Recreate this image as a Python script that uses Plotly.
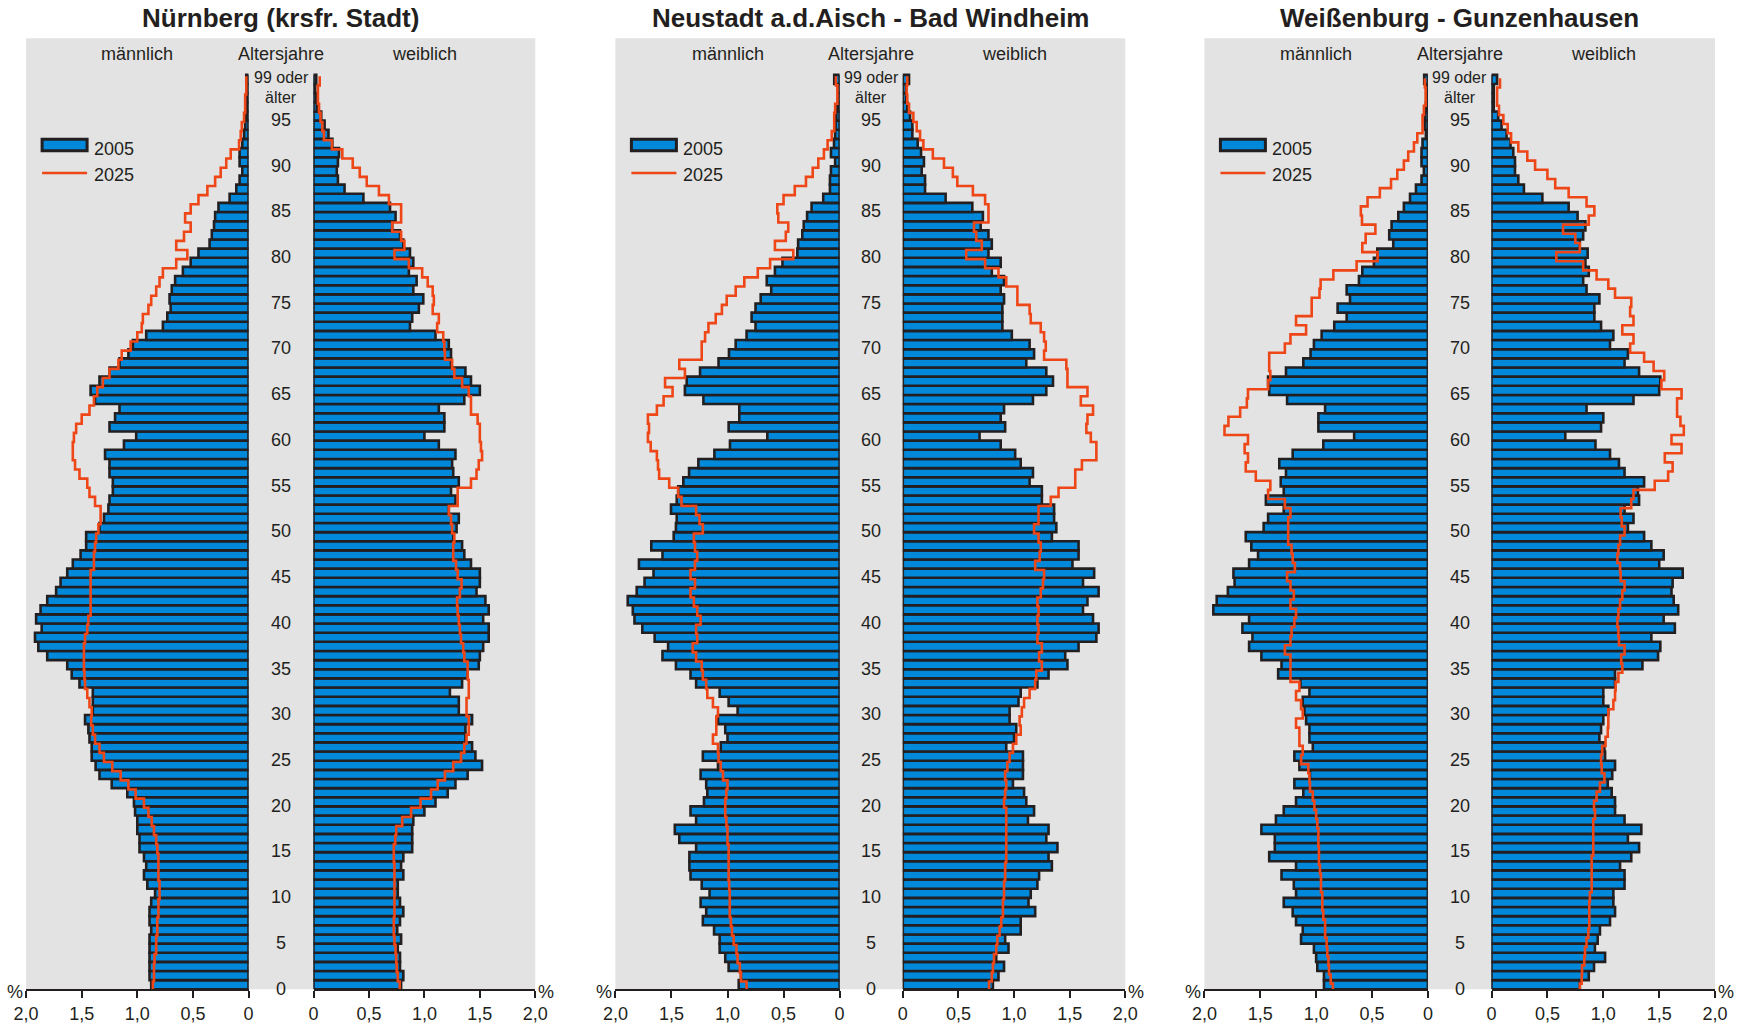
import plotly.graph_objects as go

# ---------------- data (shares in % of population, ages 0..99; 99 = "99 oder älter") ----------------
AGES = list(range(100))
TITLES = ["Nürnberg (krsfr. Stadt)", "Neustadt a.d.Aisch - Bad Windheim", "Weißenburg - Gunzenhausen"]
TICK_VALS = [0, 0.5, 1.0, 1.5, 2.0]
TICK_TEXT = ["0", "0,5", "1,0", "1,5", "2,0"]
AGE_TICKS = list(range(0, 96, 5))
SERIES_NAMES = ["2005", "2025"]

NBG_M_2005 = [0.875, 0.89, 0.89, 0.89, 0.89, 0.89, 0.875, 0.89, 0.89, 0.875,
              0.84, 0.91, 0.94, 0.92, 0.94, 0.98, 0.98, 1.00, 1.00, 1.02,
              1.03, 1.09, 1.23, 1.34, 1.375, 1.41, 1.41, 1.43, 1.44, 1.47,
              1.40, 1.40, 1.40, 1.52, 1.59, 1.63, 1.81, 1.89, 1.92, 1.86,
              1.91, 1.87, 1.81, 1.73, 1.69, 1.63, 1.58, 1.51, 1.46, 1.46,
              1.34, 1.30, 1.26, 1.25, 1.22, 1.22, 1.25, 1.25, 1.29, 1.12,
              1.01, 1.25, 1.20, 1.16, 1.38, 1.42, 1.34, 1.25, 1.16, 1.08,
              1.04, 0.92, 0.77, 0.73, 0.70, 0.71, 0.69, 0.66, 0.59, 0.52,
              0.45, 0.35, 0.33, 0.31, 0.30, 0.27, 0.17, 0.11, 0.08, 0.056,
              0.08, 0.08, 0.056, 0.04, 0.03, 0.02, 0.02, 0.02, 0.01, 0.02]
NBG_M_2025 = [0.86, 0.85, 0.85, 0.845, 0.83, 0.83, 0.82, 0.82, 0.81, 0.81,
              0.80, 0.80, 0.81, 0.81, 0.81, 0.82, 0.83, 0.85, 0.87, 0.90,
              0.94, 1.015, 1.08, 1.15, 1.225, 1.30, 1.34, 1.38, 1.40, 1.415,
              1.41, 1.43, 1.45, 1.47, 1.475, 1.48, 1.48, 1.48, 1.47, 1.45,
              1.44, 1.42, 1.42, 1.42, 1.42, 1.42, 1.39, 1.39, 1.38, 1.37,
              1.35, 1.33, 1.33, 1.38, 1.43, 1.45, 1.52, 1.56, 1.58, 1.58,
              1.57, 1.55, 1.50, 1.43, 1.39, 1.36, 1.31, 1.25, 1.17, 1.14,
              1.06, 1.00, 0.96, 0.95, 0.90, 0.875, 0.83, 0.80, 0.77, 0.65,
              0.55, 0.65, 0.58, 0.52, 0.57, 0.52, 0.45, 0.37, 0.30, 0.25,
              0.20, 0.16, 0.085, 0.07, 0.06, 0.04, 0.03, 0.03, 0.02, 0.02]
NBG_F_2005 = [0.79, 0.81, 0.78, 0.78, 0.76, 0.79, 0.755, 0.78, 0.81, 0.78,
              0.76, 0.76, 0.81, 0.79, 0.81, 0.89, 0.89, 0.89, 0.90, 1.00,
              1.10, 1.21, 1.28, 1.39, 1.52, 1.46, 1.43, 1.37, 1.37, 1.43,
              1.31, 1.31, 1.23, 1.34, 1.39, 1.49, 1.50, 1.53, 1.58, 1.58,
              1.53, 1.58, 1.55, 1.47, 1.50, 1.50, 1.42, 1.36, 1.34, 1.26,
              1.29, 1.31, 1.22, 1.28, 1.24, 1.31, 1.26, 1.25, 1.28, 1.13,
              1.00, 1.18, 1.18, 1.13, 1.36, 1.50, 1.42, 1.37, 1.24, 1.24,
              1.22, 1.10, 0.87, 0.89, 0.95, 0.99, 0.90, 0.93, 0.86, 0.90,
              0.87, 0.81, 0.78, 0.71, 0.74, 0.69, 0.45, 0.28, 0.22, 0.21,
              0.22, 0.23, 0.17, 0.135, 0.10, 0.07, 0.03, 0.025, 0.015, 0.025]
NBG_F_2025 = [0.777, 0.76, 0.75, 0.746, 0.74, 0.73, 0.724, 0.724, 0.73, 0.73,
              0.73, 0.73, 0.73, 0.73, 0.724, 0.724, 0.737, 0.746, 0.80, 0.88,
              0.965, 1.06, 1.12, 1.185, 1.26, 1.33, 1.36, 1.38, 1.40, 1.40,
              1.38, 1.38, 1.40, 1.40, 1.39, 1.39, 1.36, 1.35, 1.33, 1.32,
              1.31, 1.30, 1.295, 1.32, 1.335, 1.30, 1.285, 1.26, 1.26, 1.27,
              1.25, 1.24, 1.22, 1.30, 1.30, 1.42, 1.47, 1.49, 1.52, 1.51,
              1.50, 1.50, 1.48, 1.42, 1.42, 1.40, 1.34, 1.27, 1.25, 1.185,
              1.18, 1.17, 1.115, 1.13, 1.075, 1.085, 1.075, 1.03, 0.98, 0.86,
              0.73, 0.82, 0.79, 0.71, 0.79, 0.79, 0.68, 0.59, 0.48, 0.417,
              0.354, 0.26, 0.166, 0.094, 0.08, 0.063, 0.05, 0.04, 0.04, 0.056]

NEA_M_2005 = [0.90, 0.88, 0.99, 1.02, 1.07, 1.07, 1.12, 1.22, 1.19, 1.24,
              1.16, 1.23, 1.33, 1.34, 1.34, 1.28, 1.43, 1.47, 1.28, 1.33,
              1.21, 1.18, 1.19, 1.24, 1.085, 1.22, 1.06, 1.00, 1.02, 1.085,
              0.91, 0.99, 1.07, 1.28, 1.33, 1.46, 1.58, 1.53, 1.65, 1.76,
              1.83, 1.845, 1.89, 1.81, 1.74, 1.66, 1.79, 1.58, 1.68, 1.48,
              1.46, 1.453, 1.504, 1.453, 1.44, 1.394, 1.343, 1.26, 1.117, 0.978,
              0.645, 0.99, 0.895, 0.895, 1.215, 1.38, 1.364, 1.245, 1.08, 0.987,
              0.927, 0.83, 0.75, 0.785, 0.75, 0.704, 0.61, 0.65, 0.577, 0.51,
              0.377, 0.37, 0.333, 0.32, 0.29, 0.25, 0.146, 0.086, 0.086, 0.077,
              0.04, 0.077, 0.05, 0.04, 0.036, 0.03, 0.02, 0.012, 0.012, 0.048]
NEA_M_2025 = [0.83, 0.88, 0.89, 0.91, 0.92, 0.945, 0.96, 0.97, 0.98, 0.98,
              0.98, 0.985, 0.99, 0.99, 0.99, 0.99, 1.00, 1.00, 1.01, 1.02,
              1.02, 1.01, 1.00, 1.04, 1.06, 1.08, 1.085, 1.13, 1.10, 1.10,
              1.085, 1.13, 1.18, 1.19, 1.22, 1.23, 1.28, 1.31, 1.27, 1.28,
              1.24, 1.27, 1.30, 1.33, 1.29, 1.33, 1.29, 1.27, 1.29, 1.30,
              1.22, 1.25, 1.28, 1.41, 1.44, 1.52, 1.61, 1.62, 1.63, 1.685,
              1.71, 1.70, 1.71, 1.63, 1.57, 1.49, 1.557, 1.38, 1.43, 1.23,
              1.23, 1.20, 1.17, 1.105, 1.05, 1.007, 0.927, 0.85, 0.73, 0.62,
              0.413, 0.577, 0.48, 0.458, 0.547, 0.556, 0.50, 0.40, 0.30, 0.24,
              0.19, 0.14, 0.107, 0.07, 0.048, 0.048, 0.04, 0.02, 0.02, 0.033]
NEA_F_2005 = [0.81, 0.86, 0.91, 0.84, 0.95, 0.92, 1.06, 1.06, 1.19, 1.13,
              1.15, 1.21, 1.225, 1.34, 1.31, 1.39, 1.29, 1.31, 1.125, 1.18,
              1.11, 1.09, 0.99, 1.08, 1.08, 1.08, 0.93, 1.00, 1.02, 0.96,
              0.96, 1.04, 1.06, 1.21, 1.31, 1.48, 1.46, 1.58, 1.74, 1.76,
              1.71, 1.62, 1.66, 1.76, 1.62, 1.72, 1.525, 1.58, 1.58, 1.34,
              1.38, 1.36, 1.36, 1.25, 1.25, 1.14, 1.17, 1.06, 1.01, 0.88,
              0.69, 0.92, 0.88, 0.91, 1.17, 1.29, 1.35, 1.29, 1.11, 1.18,
              1.14, 0.98, 0.895, 0.895, 0.895, 0.91, 0.88, 0.91, 0.80, 0.88,
              0.77, 0.80, 0.77, 0.70, 0.72, 0.625, 0.385, 0.20, 0.20, 0.17,
              0.19, 0.164, 0.134, 0.086, 0.086, 0.065, 0.04, 0.03, 0.03, 0.056]
NEA_F_2025 = [0.775, 0.80, 0.81, 0.82, 0.84, 0.85, 0.87, 0.885, 0.90, 0.90,
              0.91, 0.91, 0.92, 0.92, 0.93, 0.93, 0.93, 0.93, 0.93, 0.93,
              0.91, 0.92, 0.93, 0.92, 0.94, 0.96, 0.99, 1.02, 1.06, 1.05,
              1.07, 1.09, 1.14, 1.19, 1.20, 1.25, 1.225, 1.25, 1.21, 1.22,
              1.21, 1.22, 1.21, 1.24, 1.26, 1.27, 1.19, 1.23, 1.24, 1.22,
              1.18, 1.22, 1.22, 1.33, 1.40, 1.55, 1.55, 1.61, 1.74, 1.74,
              1.69, 1.65, 1.66, 1.71, 1.60, 1.66, 1.48, 1.48, 1.47, 1.27,
              1.285, 1.27, 1.24, 1.15, 1.14, 1.03, 1.03, 0.93, 0.86, 0.74,
              0.57, 0.71, 0.66, 0.64, 0.77, 0.77, 0.74, 0.63, 0.49, 0.45,
              0.37, 0.27, 0.185, 0.155, 0.125, 0.095, 0.056, 0.04, 0.035, 0.04]

WUG_M_2005 = [0.93, 0.93, 0.99, 1.00, 1.02, 1.135, 1.12, 1.18, 1.21, 1.29,
              1.18, 1.20, 1.31, 1.18, 1.42, 1.37, 1.37, 1.49, 1.36, 1.29,
              1.18, 1.115, 1.195, 1.055, 1.15, 1.195, 1.03, 1.06, 1.06, 1.09,
              1.105, 1.12, 1.06, 1.14, 1.34, 1.31, 1.49, 1.60, 1.57, 1.66,
              1.60, 1.92, 1.89, 1.79, 1.73, 1.74, 1.60, 1.52, 1.58, 1.63,
              1.47, 1.43, 1.29, 1.45, 1.29, 1.317, 1.27, 1.33, 1.21, 0.936,
              0.66, 0.98, 0.98, 0.92, 1.26, 1.42, 1.43, 1.27, 1.115, 1.05,
              1.02, 0.951, 0.838, 0.727, 0.808, 0.697, 0.727, 0.617, 0.587, 0.483,
              0.453, 0.31, 0.346, 0.325, 0.265, 0.215, 0.16, 0.107, 0.057, 0.036,
              0.057, 0.057, 0.048, 0.018, 0.027, 0.027, 0.018, 0.015, 0.015, 0.033]
WUG_M_2025 = [0.85, 0.87, 0.885, 0.89, 0.90, 0.906, 0.92, 0.92, 0.936, 0.945,
              0.945, 0.957, 0.957, 0.966, 0.975, 0.975, 0.98, 0.98, 0.99, 1.00,
              1.016, 1.03, 1.055, 1.06, 1.07, 1.135, 1.12, 1.15, 1.15, 1.18,
              1.12, 1.135, 1.18, 1.15, 1.23, 1.23, 1.23, 1.28, 1.23, 1.22,
              1.195, 1.18, 1.23, 1.20, 1.23, 1.26, 1.19, 1.21, 1.22, 1.25,
              1.25, 1.25, 1.23, 1.28, 1.43, 1.41, 1.54, 1.63, 1.61, 1.64,
              1.61, 1.82, 1.785, 1.68, 1.62, 1.61, 1.43, 1.41, 1.42, 1.42,
              1.28, 1.23, 1.09, 1.18, 1.04, 1.04, 0.97, 0.96, 0.846, 0.638,
              0.45, 0.587, 0.557, 0.47, 0.59, 0.60, 0.54, 0.43, 0.33, 0.274,
              0.215, 0.176, 0.125, 0.095, 0.048, 0.048, 0.036, 0.02, 0.02, 0.027]
WUG_F_2005 = [0.79, 0.87, 0.917, 1.016, 0.925, 0.95, 0.97, 1.06, 1.105, 1.09,
              1.09, 1.19, 1.19, 1.15, 1.25, 1.32, 1.22, 1.34, 1.19, 1.105,
              1.105, 1.075, 1.04, 1.08, 1.105, 1.016, 1.01, 0.965, 0.98, 1.00,
              1.045, 1.00, 1.00, 1.105, 1.105, 1.35, 1.49, 1.51, 1.43, 1.64,
              1.54, 1.67, 1.63, 1.61, 1.62, 1.71, 1.50, 1.54, 1.43, 1.365,
              1.22, 1.27, 1.19, 1.32, 1.31, 1.365, 1.19, 1.14, 1.06, 0.93,
              0.66, 0.98, 1.00, 0.85, 1.27, 1.50, 1.51, 1.32, 1.19, 1.22,
              1.06, 1.09, 0.98, 0.92, 0.92, 0.965, 0.85, 0.82, 0.87, 0.84,
              0.86, 0.79, 0.82, 0.84, 0.77, 0.69, 0.455, 0.29, 0.24, 0.21,
              0.21, 0.195, 0.17, 0.135, 0.09, 0.06, 0.02, 0.02, 0.02, 0.05]
WUG_F_2025 = [0.79, 0.807, 0.81, 0.83, 0.836, 0.85, 0.866, 0.875, 0.875, 0.875,
              0.88, 0.896, 0.896, 0.896, 0.896, 0.91, 0.91, 0.91, 0.91, 0.926,
              0.917, 0.94, 0.97, 1.01, 0.986, 0.98, 0.99, 1.02, 1.04, 1.045,
              1.045, 1.09, 1.105, 1.11, 1.135, 1.17, 1.16, 1.19, 1.14, 1.135,
              1.126, 1.135, 1.15, 1.17, 1.19, 1.155, 1.15, 1.126, 1.135, 1.15,
              1.19, 1.165, 1.155, 1.25, 1.27, 1.46, 1.58, 1.62, 1.55, 1.70,
              1.61, 1.72, 1.69, 1.66, 1.66, 1.70, 1.52, 1.545, 1.45, 1.365,
              1.24, 1.27, 1.17, 1.27, 1.24, 1.25, 1.105, 1.045, 0.94, 0.82,
              0.58, 0.79, 0.75, 0.64, 0.87, 0.92, 0.85, 0.69, 0.57, 0.50,
              0.39, 0.32, 0.24, 0.175, 0.145, 0.106, 0.067, 0.05, 0.05, 0.076]

PANEL_DATA = [
    (NBG_M_2005, NBG_M_2025, NBG_F_2005, NBG_F_2025),
    (NEA_M_2005, NEA_M_2025, NEA_F_2005, NEA_F_2025),
    (WUG_M_2005, WUG_M_2025, WUG_F_2005, WUG_F_2025),
]

# ---------------- styling / layout ----------------
W, H = 1750, 1026
BLUE = "#0088DA"
DARK = "#231F20"
RED = "#EE4616"
GRAY = "#E3E3E3"
FONT = "Liberation Sans, Arial, Helvetica, sans-serif"

# pixel geometry per panel: male axis (2,0 .. 0) and female axis (0 .. 2,0)
PANELS = [(26.1, 248.5, 313.5, 535.3),
          (615.4, 839.6, 902.8, 1125.3),
          (1204.4, 1427.9, 1491.5, 1715.1)]
Y_TOP_PX, Y_BOT_PX = 38.3, 989.3
Y_RANGE = [-0.5, 103.5]
RED_SHIFT = [-0.15, -0.15, -0.38]


def px(x):
    return x / W


def py(y):
    return 1 - y / H


def age_at(ypx):
    # data-coordinate age for a pixel row
    return Y_RANGE[0] + (Y_BOT_PX - ypx) / (Y_BOT_PX - Y_TOP_PX) * (Y_RANGE[1] - Y_RANGE[0])


fig = go.Figure()
shapes = []
annotations = []
layout_axes = {}

for p, (ml, mr, fl, fr) in enumerate(PANELS):
    m05, m25, f05, f25 = PANEL_DATA[p]
    shapes.append(dict(type="rect", xref="paper", yref="paper",
                       x0=px(ml), x1=px(fr), y0=py(Y_BOT_PX), y1=py(Y_TOP_PX),
                       fillcolor=GRAY, line=dict(width=0), layer="below"))
    for side, (v05, v25, lo, hi, rng) in enumerate([(m05, m25, ml, mr, [2, 0]),
                                                   (f05, f25, fl, fr, [0, 2])]):
        k = 2 * p + side + 1
        xa = "x" if k == 1 else f"x{k}"
        ya = "y" if k == 1 else f"y{k}"
        fig.add_trace(go.Bar(
            x=v05, y=AGES, orientation="h", width=1.0,
            marker=dict(color=BLUE, line=dict(color=DARK, width=2.6)),
            xaxis=xa, yaxis=ya, showlegend=False, name=SERIES_NAMES[0]))
        sh = RED_SHIFT[p]
        fig.add_trace(go.Scatter(
            x=list(v25) + [v25[-1]],
            y=[a - 0.5 + sh for a in AGES] + [AGES[-1] + 0.5 + sh],
            mode="lines", line=dict(color=RED, width=2.6, shape="vh"),
            xaxis=xa, yaxis=ya, showlegend=False, name=SERIES_NAMES[1]))
        layout_axes["xaxis" if k == 1 else f"xaxis{k}"] = dict(
            domain=[px(lo), px(hi)], range=rng, autorange=False, anchor=ya,
            showgrid=False, zeroline=False, showline=True, linecolor=DARK,
            linewidth=2, ticks="outside", ticklen=7, tickwidth=2, tickcolor=DARK,
            tickvals=TICK_VALS, ticktext=TICK_TEXT, automargin=False,
            tickfont=dict(size=18, color=DARK, family=FONT), fixedrange=True)
        layout_axes["yaxis" if k == 1 else f"yaxis{k}"] = dict(
            domain=[py(Y_BOT_PX), py(Y_TOP_PX)], range=Y_RANGE, autorange=False,
            anchor=xa, visible=False, fixedrange=True, automargin=False)
        shapes.append(dict(type="line", xref=xa, yref=ya, x0=0, x1=0,
                           y0=-0.5, y1=99.5, line=dict(color=DARK, width=2.6),
                           layer="below"))
    ya_m = "y" if p == 0 else f"y{2 * p + 1}"
    mid = (mr + fl) / 2
    txt = dict(color=DARK, family=FONT, size=18)
    annotations.append(dict(text=f"<b>{TITLES[p]}</b>", x=px((ml + fr) / 2), y=py(18),
                            xref="paper", yref="paper", showarrow=False,
                            xanchor="center", yanchor="middle",
                            font=dict(color=DARK, family=FONT, size=26)))
    for label, cx in (("männlich", (ml + mr) / 2), ("Altersjahre", mid), ("weiblich", (fl + fr) / 2)):
        annotations.append(dict(text=label, x=px(cx), y=py(54), xref="paper", yref="paper",
                                showarrow=False, xanchor="center", yanchor="middle", font=txt))
    for a in AGE_TICKS:
        annotations.append(dict(text=str(a), x=px(mid), y=a - 0.42, xref="paper", yref=ya_m,
                                showarrow=False, xanchor="center", yanchor="middle", font=txt))
    small = dict(color=DARK, family=FONT, size=16)
    annotations.append(dict(text="99 oder", x=px(mid), y=age_at(77.5), xref="paper", yref=ya_m,
                            showarrow=False, xanchor="center", yanchor="middle", font=small,
                            borderpad=0))
    annotations.append(dict(text="älter", x=px(mid), y=age_at(97.5), xref="paper", yref=ya_m,
                            showarrow=False, xanchor="center", yanchor="middle", font=small,
                            borderpad=0))
    annotations.append(dict(text="%", x=px(ml - 1), y=py(992), xref="paper", yref="paper",
                            showarrow=False, xanchor="right", yanchor="middle", font=txt))
    annotations.append(dict(text="%", x=px(fr + 1), y=py(992), xref="paper", yref="paper",
                            showarrow=False, xanchor="left", yanchor="middle", font=txt))
    # legend
    shapes.append(dict(type="rect", xref="paper", yref="paper",
                       x0=px(ml + 16), x1=px(ml + 61), y0=py(150.8), y1=py(139.2),
                       fillcolor=BLUE, line=dict(color=DARK, width=3), layer="above"))
    shapes.append(dict(type="line", xref="paper", yref="paper",
                       x0=px(ml + 16), x1=px(ml + 61), y0=py(173), y1=py(173),
                       line=dict(color=RED, width=2.6), layer="above"))
    annotations.append(dict(text=SERIES_NAMES[0], x=px(ml + 66), y=py(148.5), xref="paper",
                            yref="paper", showarrow=False, xanchor="left", yanchor="middle", font=txt))
    annotations.append(dict(text=SERIES_NAMES[1], x=px(ml + 66), y=py(175), xref="paper",
                            yref="paper", showarrow=False, xanchor="left", yanchor="middle", font=txt))

fig.update_layout(
    width=W, height=H, autosize=False,
    margin=dict(l=0, r=0, t=0, b=0, pad=0, autoexpand=False),
    paper_bgcolor="white", plot_bgcolor="rgba(0,0,0,0)",
    barmode="overlay", bargap=0, hovermode=False,
    showlegend=False, shapes=shapes, annotations=annotations,
    font=dict(family=FONT, color=DARK, size=18),
    **layout_axes,
)

# remove the default page margin so the 1750x1026 figure fills the window exactly
fig.write_html("out.html",
               config={"displayModeBar": False, "staticPlot": True},
               post_script="document.body.style.margin='0';document.body.style.overflow='hidden';")
